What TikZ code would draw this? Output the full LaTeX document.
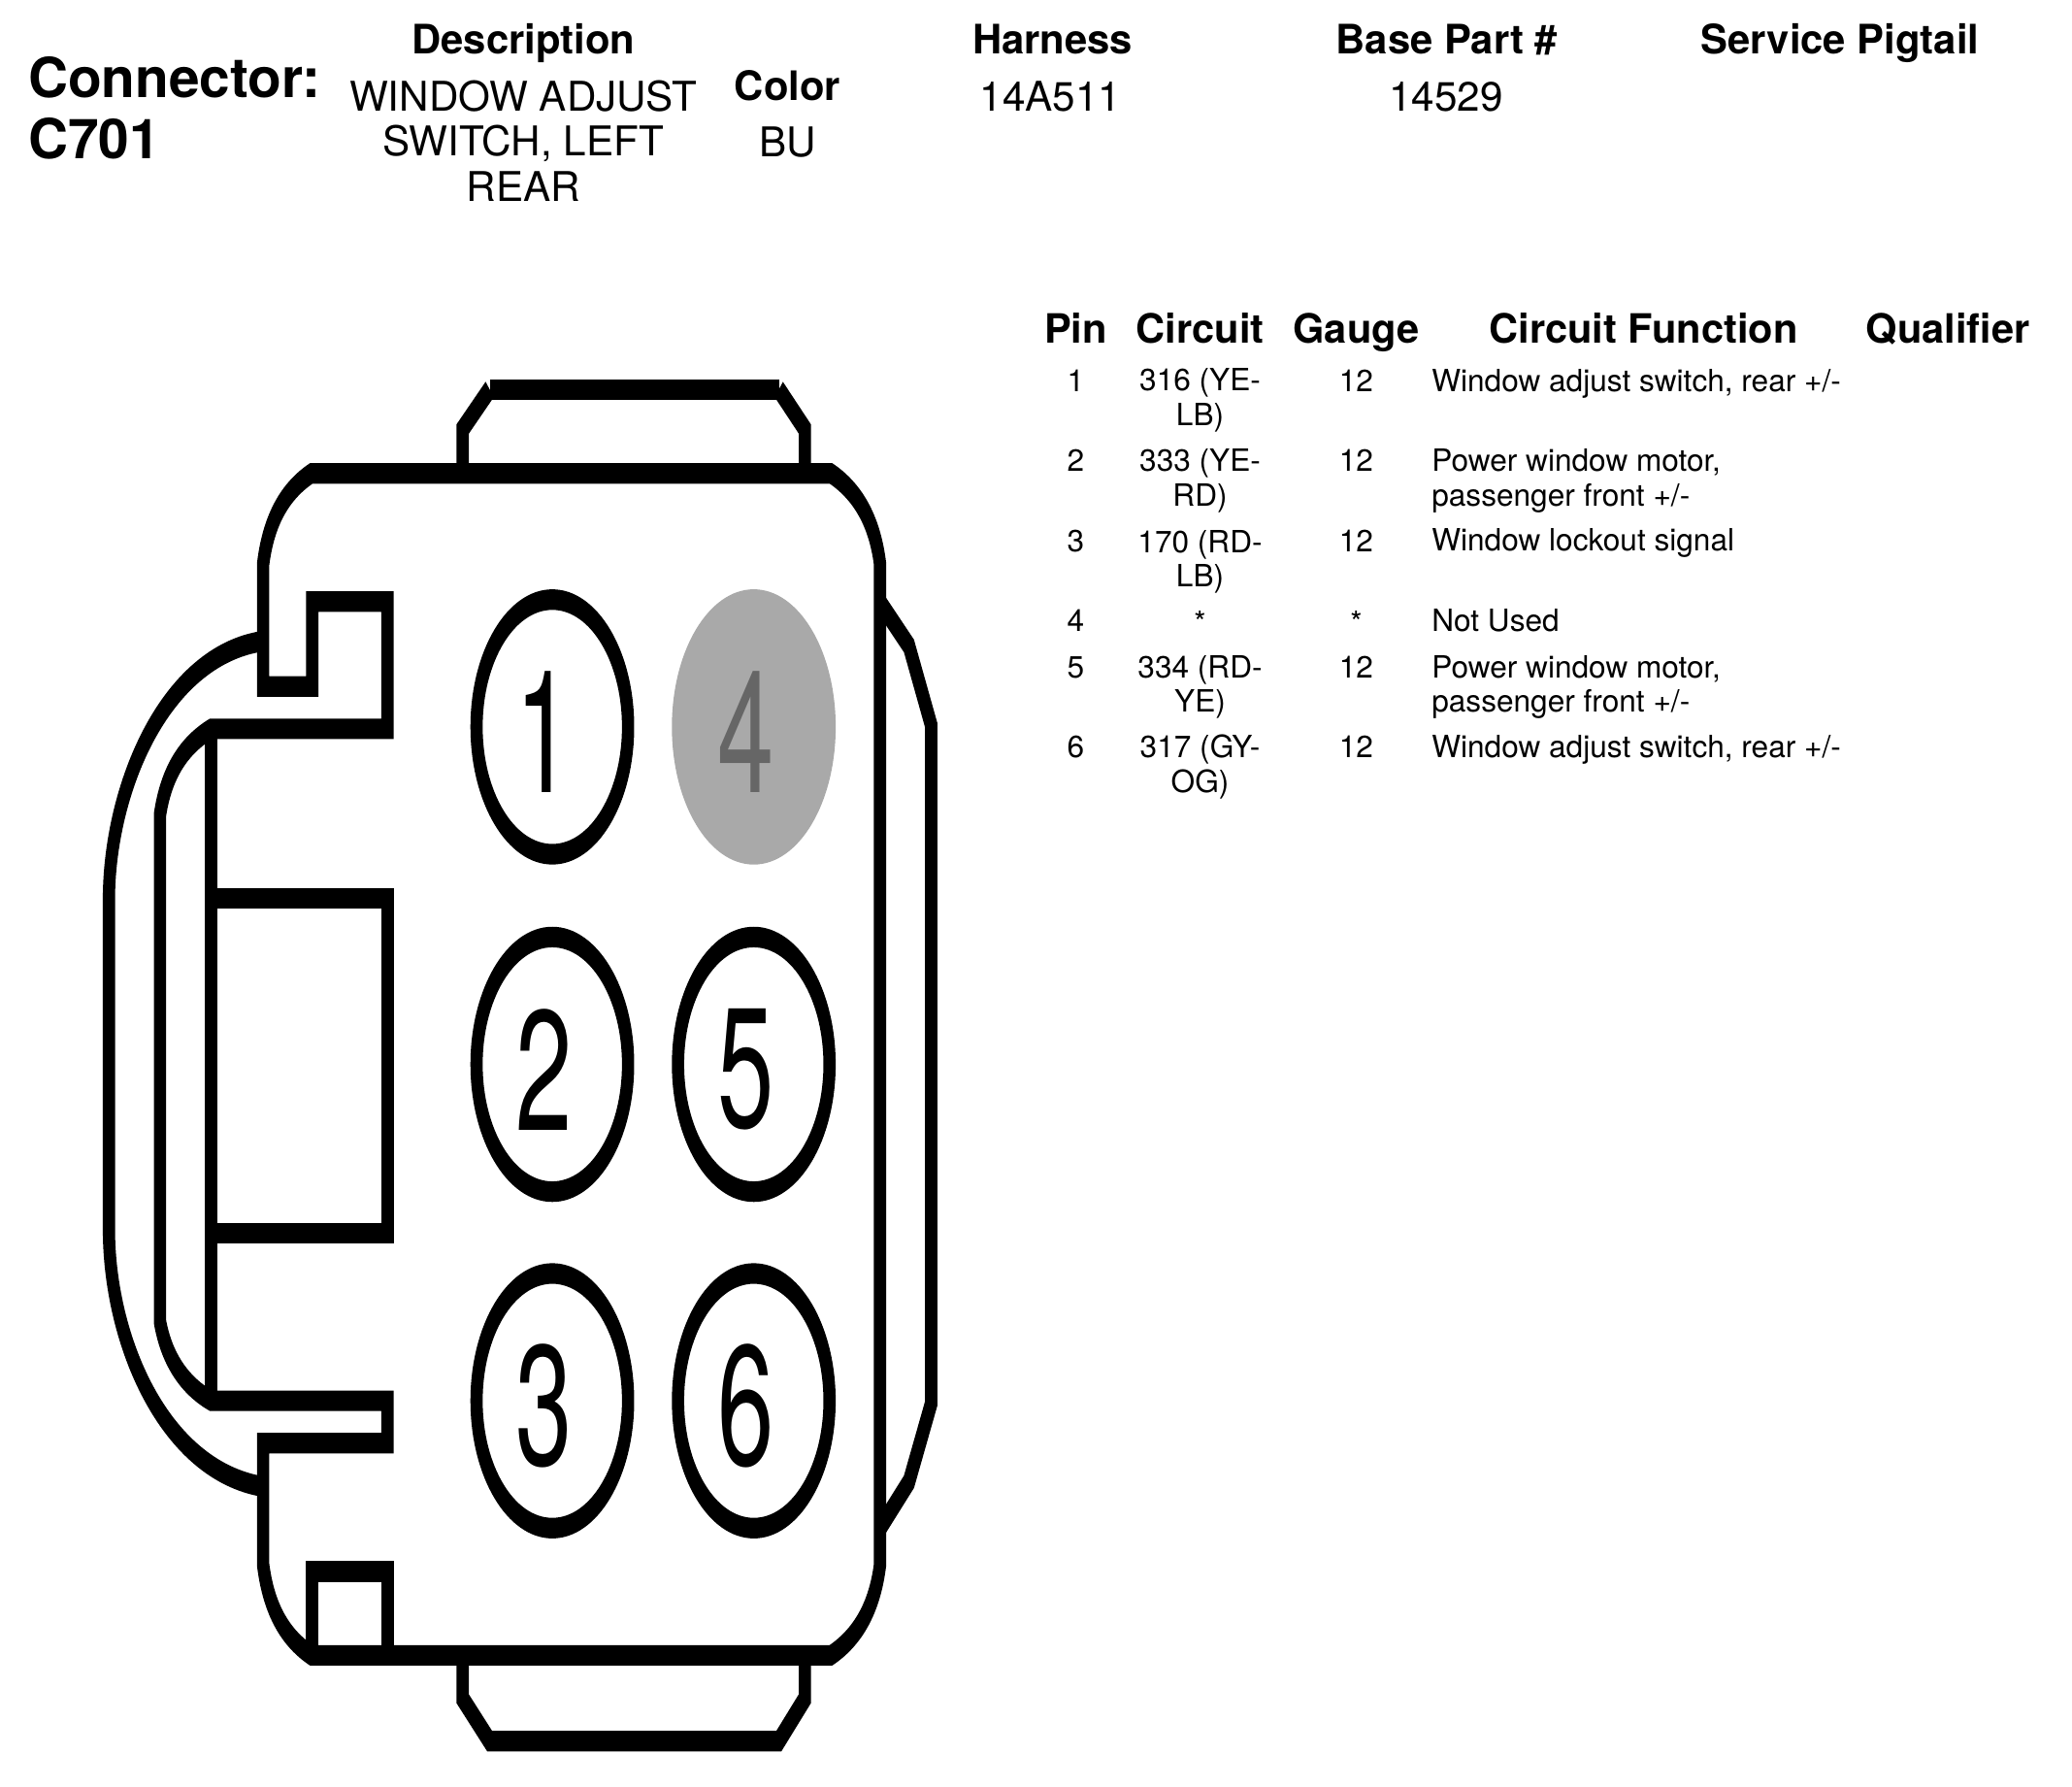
\documentclass[tikz,border=0pt]{standalone}
\usepackage{fontspec}
\setmainfont{TeX Gyre Heros}
\definecolor{pingrey}{HTML}{A9A9A9}
\definecolor{pintext}{HTML}{666666}
\newcommand{\pindigit}[1]{\kern-8pt\raisebox{-1.6pt}[\height][\depth]{#1}}
\tikzset{
  conn/.style={draw=black,line width=6.31pt,line join=miter,miter limit=10},
  pinbox/.style={circle,draw=black,line width=6.31pt,minimum size=78.07pt,inner sep=0pt,font=\fontsize{52.4}{60}\selectfont},
  pinoff/.style={circle,fill=pingrey,text=pintext,minimum size=84.4pt,inner sep=0pt,font=\fontsize{52.4}{60}\selectfont},
  bighead/.style={anchor=base west,inner sep=0pt,font=\bfseries\fontsize{28.4}{32}\selectfont},
  head/.style={anchor=base,inner sep=0pt,font=\bfseries\fontsize{20.9}{24}\selectfont},
  val/.style={anchor=base,inner sep=0pt,align=center,font=\fontsize{21.1}{23.2}\selectfont},
  thead/.style={anchor=base,inner sep=0pt,font=\bfseries\fontsize{20.8}{24}\selectfont},
  cell/.style={anchor=base,inner sep=0pt,align=center,font=\fontsize{15.8}{17.8}\selectfont},
  fcell/.style={anchor=base west,inner sep=0pt,align=left,font=\fontsize{15.8}{17.8}\selectfont}
}
\begin{document}
\begin{tikzpicture}[x=0.4966pt,y=-0.4966pt]
\useasboundingbox (0,0) rectangle (2149.6,1852.6);
% header
\node[bighead] (conn) at (29,101) {Connector:};
\node[bighead] (cid) at (29,165) {C701};
\node[head] (hdesc) at (543,56) {Description};
\node[val] (desc) at (543,208.5) {WINDOW ADJUST\\SWITCH, LEFT\\REAR};
\node[head] (hcol) at (817,104) {Color};
\node[val] (col) at (817,163) {BU};
\node[head] (hhar) at (1092,56) {Harness};
\node[val] (har) at (1090,115) {14A511};
\node[head] (hbase) at (1501,56) {Base Part \#};
\node[val] (base) at (1500,115) {14529};
\node[head] (hserv) at (1909,56) {Service Pigtail};
% table header
\node[thead] (tpin) at (1116,356) {Pin};
\node[thead] (tcir) at (1245,356) {Circuit};
\node[thead] (tgau) at (1407,356) {Gauge};
\node[thead] (tfun) at (1705,356) {Circuit Function};
\node[thead] (tqua) at (2021,356) {Qualifier};
% rows (multi-line nodes are placed by their last baseline)
\node[cell] (p1) at (1116,406) {1};
\node[cell] (c1) at (1245,441) {316 (YE-\\LB)};
\node[cell] (g1) at (1407,406) {12};
\node[fcell] (f1) at (1485,406) {Window adjust switch, rear +/-};
\node[cell] (p2) at (1116,489) {2};
\node[cell] (c2) at (1245,525) {333 (YE-\\RD)};
\node[cell] (g2) at (1407,489) {12};
\node[fcell] (f2) at (1485,525) {Power window motor,\\passenger front +/-};
\node[cell] (p3) at (1116,572) {3};
\node[cell] (c3) at (1245,609) {170 (RD-\\LB)};
\node[cell] (g3) at (1407,572) {12};
\node[fcell] (f3) at (1485,571) {Window lockout signal};
\node[cell] (p4) at (1116,655) {4};
\node[cell] (c4) at (1245,657) {*};
\node[cell] (g4) at (1407,657) {*};
\node[fcell] (f4) at (1485,655) {Not Used};
\node[cell] (p5) at (1116,703) {5};
\node[cell] (c5) at (1245,739) {334 (RD-\\YE)};
\node[cell] (g5) at (1407,703) {12};
\node[fcell] (f5) at (1485,739) {Power window motor,\\passenger front +/-};
\node[cell] (p6) at (1116,786) {6};
\node[cell] (c6) at (1245,822) {317 (GY-\\OG)};
\node[cell] (g6) at (1407,786) {12};
\node[fcell] (f6) at (1485,786) {Window adjust switch, rear +/-};
% connector drawing: vertical strokes thin, horizontal strokes thick
\begin{scope}[transform canvas={yscale=1.68},y=-0.2956pt]
\draw[conn] (508,404) -- (480,445) -- (480,491);
\draw[conn] (808,404) -- (835,445) -- (835,491);
\draw[conn] (508,404) -- (808,404);
\draw[conn] (323,491) -- (862,491)
  .. controls (893,512) and (908,545) .. (913,585)
  -- (913,1623)
  .. controls (908,1663) and (893,1696) .. (862,1717)
  -- (323,1717)
  .. controls (292,1696) and (278,1663) .. (273,1623)
  -- (273,1497) -- (402,1497) -- (402,1453) -- (219,1453)
  .. controls (188,1435) and (172,1405) .. (166,1371)
  -- (166,845)
  .. controls (172,805) and (188,775) .. (219,756)
  -- (402,756) -- (402,624) -- (324,624) -- (324,712) -- (273,712) -- (273,585)
  .. controls (278,545) and (292,512) .. (323,491) -- cycle;
\draw[conn] (219,756) -- (219,1453);
\draw[conn] (219,932) -- (402,932) -- (402,1279) -- (219,1279);
\draw[conn] (273,665) .. controls (170,680) and (113,820) .. (113,933)
  -- (113,1275) .. controls (113,1390) and (170,1525) .. (273,1542);
\draw[conn] (913,625) -- (943,670) -- (966,752) -- (966,1456) -- (943,1537) -- (913,1585);
\draw[conn] (324,1717) -- (324,1630) -- (402,1630) -- (402,1717);
\draw[conn] (480,1717) -- (480,1762) -- (508,1806) -- (808,1806) -- (835,1762) -- (835,1717);
\node[pinbox] (pin1) at (573,754) {\pindigit{1}};
\node[pinbox] (pin2) at (573,1104) {\pindigit{2}};
\node[pinbox] (pin3) at (573,1453) {\pindigit{3}};
\node[pinoff] (pin4) at (782,754) {\pindigit{4}};
\node[pinbox] (pin5) at (782,1104) {\pindigit{5}};
\node[pinbox] (pin6) at (782,1453) {\pindigit{6}};
\end{scope}
\end{tikzpicture}
\end{document}
